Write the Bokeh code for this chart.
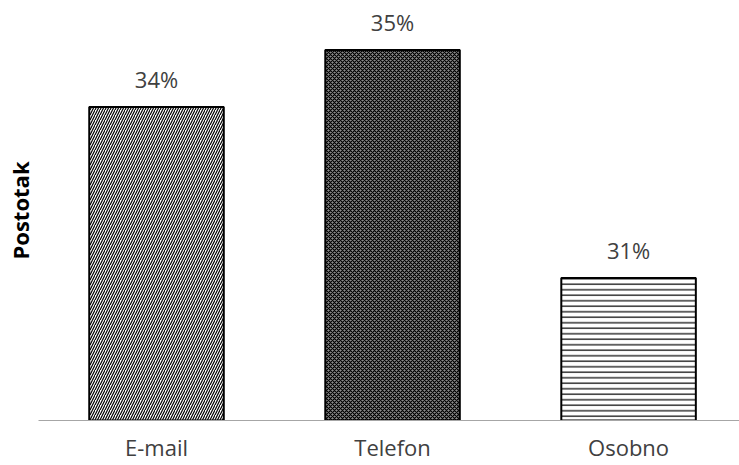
from bokeh.plotting import figure
from bokeh.models import ColumnDataSource, Range1d, FixedTicker
from bokeh.core.properties import value
from bokeh.embed import file_html
from bokeh.resources import INLINE

categories = ["E-mail", "Telefon", "Osobno"]
values = [34, 35, 31]
value_labels = ["34%", "35%", "31%"]

axis_min = 28.5
axis_max = 35.87

hatch_patterns = ["right_diagonal_line", "diagonal_cross", "horizontal_line"]
hatch_scales = [5, 4, 5.5]
fill_colors = ["white", "#8c8c8c", "white"]

xs = list(range(len(categories)))

src = ColumnDataSource(dict(
    x=xs, top=values, lab=value_labels,
    hp=hatch_patterns, hs=hatch_scales, fc=fill_colors,
))

p = figure(width=739, height=465, output_backend="svg", toolbar_location=None,
           x_range=Range1d(-0.5, 2.47), y_range=Range1d(axis_min, axis_max),
           min_border_left=38, min_border_right=0, min_border_top=0, min_border_bottom=45)
p.outline_line_color = None
p.grid.visible = False
p.background_fill_color = "white"
p.border_fill_color = "white"

p.vbar(x="x", top="top", bottom=axis_min, width=0.57, source=src,
       fill_color="fc", hatch_pattern="hp", hatch_scale="hs", hatch_color="black",
       hatch_weight=1.2, line_color="black", line_width=2)

p.text(x="x", y="top", text="lab", source=src, text_align="center",
       text_baseline="middle", y_offset=-28, text_font=value("Open Sans"),
       text_font_size="22px", text_color="#404040")

p.xaxis.ticker = FixedTicker(ticks=xs)
p.xaxis.major_label_overrides = {i: c for i, c in zip(xs, categories)}
p.xaxis.major_tick_line_color = None
p.xaxis.minor_tick_line_color = None
p.xaxis.axis_line_color = "#a6a6a6"
p.xaxis.axis_line_width = 1
p.xaxis.major_label_text_font = "Open Sans"
p.xaxis.major_label_text_font_size = "22px"
p.xaxis.major_label_text_color = "#404040"
p.xaxis.major_label_standoff = 5

p.yaxis.ticker = FixedTicker(ticks=[])
p.yaxis.axis_line_color = None
p.yaxis.major_tick_line_color = None
p.yaxis.minor_tick_line_color = None
p.yaxis.major_label_text_font_size = "0px"
p.yaxis.axis_label = "Postotak"
p.yaxis.axis_label_text_font = "Open Sans"
p.yaxis.axis_label_text_font_style = "bold"
p.yaxis.axis_label_text_font_size = "22px"
p.yaxis.axis_label_text_color = "black"
p.yaxis.axis_label_standoff = 4

open("out.html", "w").write(file_html(p, INLINE))
